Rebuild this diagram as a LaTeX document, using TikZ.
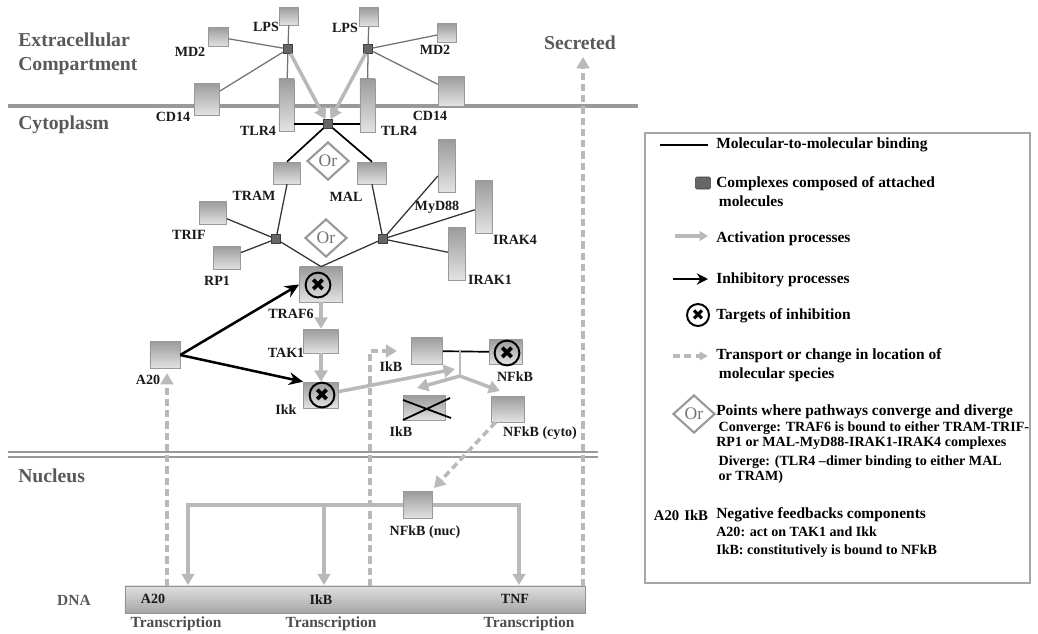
\documentclass[tikz,border=0pt]{standalone}
\usepackage{fontspec}
\setmainfont{Liberation Serif}
\newfontfamily\symfont{DejaVu Sans}
\usetikzlibrary{arrows.meta,shapes.geometric}

\begin{document}
\begin{tikzpicture}[x=0.025cm, y=-0.025cm, font=\bfseries\fontsize{10}{11}\selectfont,
    prot/.style={draw=gray!80, top color=gray!78, bottom color=gray!22, inner sep=0pt, minimum width=0.68cm, minimum height=0.6cm},
    rod/.style={prot, minimum width=0.42cm, minimum height=1.32cm},
    cplx/.style={draw=black!75, fill=black!60, inner sep=0pt, minimum size=0.22cm},
    lbl/.style={inner sep=0pt, text=black!90},
    region/.style={inner sep=0pt, text=black!65, align=left, font=\bfseries\fontsize{14}{17}\selectfont},
    orbox/.style={diamond, draw=gray!80, line width=1.5pt, fill=white, text=black!55, inner sep=0pt, minimum width=1.05cm, minimum height=0.95cm, font=\fontsize{12.5}{12.5}\selectfont},
    target/.style={circle, draw=black, line width=1.4pt, inner sep=0pt, minimum size=0.62cm, font=\symfont\fontsize{13}{13}\selectfont},
    bind/.style={black!55, line width=0.9pt},
    bindd/.style={black!80, line width=0.9pt},
    bindk/.style={black, line width=1.2pt},
    act/.style={gray!55, line width=2.5pt, -{Triangle[length=8pt,width=9pt]}},
    inh/.style={black, line width=1.8pt, -{Stealth[length=10pt,width=9pt]}},
    trans/.style={act, dash pattern=on 5pt off 3pt},
    note/.style={inner sep=0pt, anchor=west, align=left, font=\bfseries\fontsize{11}{13.5}\selectfont},
    subnote/.style={inner sep=0pt, anchor=west, align=left, font=\bfseries\fontsize{10}{11}\selectfont}]
    \useasboundingbox (0,0) rectangle (1038,633);

    % membranes
    \draw[gray!80, line width=2.8pt] (8,106) -- (638,106);
    \draw[gray!80, line width=1.2pt, double=white, double distance=2.2pt] (8,454.5) -- (598,454.5);

    % compartments
    \node[region, anchor=west] (extra) at (18,54) {Extracellular\\Compartment};
    \node[region, anchor=west] (cyto) at (18,125) {Cytoplasm};
    \node[region, anchor=west] (nucl) at (18,476) {Nucleus};
    \node[region] (secr) at (580,43) {Secreted};

    % receptor side
    \node[prot, minimum width=0.48cm, minimum height=0.45cm] (lpsL) at (289,16) {};
    \node[prot, minimum width=0.5cm, minimum height=0.48cm] (md2L) at (218,37) {};
    \node[prot, minimum width=0.63cm, minimum height=0.8cm] (cd14L) at (207,99) {};
    \node[rod, minimum width=0.38cm, minimum height=1.3cm] (tlrL) at (286.5,105) {};
    \node[prot, minimum width=0.48cm, minimum height=0.48cm] (lpsR) at (369,17) {};
    \node[prot, minimum width=0.48cm, minimum height=0.48cm] (md2R) at (447,33) {};
    \node[prot, minimum width=0.65cm, minimum height=0.75cm] (cd14R) at (451,91) {};
    \node[rod, minimum width=0.38cm, minimum height=1.33cm] (tlrR) at (367.5,105.5) {};
    \node[cplx] (cxL) at (288,49) {};
    \node[cplx] (cxR) at (368,49) {};
    \node[cplx] (cxC) at (328,124) {};

    \node[lbl] (lpsLl) at (266,27) {LPS};
    \node[lbl] (md2Ll) at (190,52) {MD2};
    \node[lbl] (cd14Ll) at (173,117) {CD14};
    \node[lbl] (tlrLl) at (258,131) {TLR4};
    \node[lbl] (lpsRl) at (345,28) {LPS};
    \node[lbl] (md2Rl) at (435,50) {MD2};
    \node[lbl] (cd14Rl) at (430,116) {CD14};
    \node[lbl] (tlrRl) at (399,131) {TLR4};

    \draw[bind] (cxL) -- (lpsL);
    \draw[bind] (cxL) -- (md2L);
    \draw[bind] (cxL) -- (cd14L);
    \draw[bind] (cxL) -- (tlrL);
    \draw[bind] (cxR) -- (lpsR);
    \draw[bind] (cxR) -- (md2R);
    \draw[bind] (cxR) -- (cd14R);
    \draw[bind] (cxR) -- (tlrR);
    \draw[act] (cxL) -- (cxC);
    \draw[act] (cxR) -- (cxC);
    \draw[bindk] (cxC -| tlrL.east) -- (cxC) -- (cxC -| tlrR.west);

    % adaptors
    \node[prot, minimum height=0.55cm] (tram) at (287,173) {};
    \node[prot, minimum width=0.72cm, minimum height=0.55cm] (mal) at (372,173) {};
    \node[prot, minimum height=0.58cm] (trif) at (213,213) {};
    \node[prot, minimum height=0.58cm] (rp1) at (227,258) {};
    \node[rod] (myd) at (446.5,166) {};
    \node[rod] (irak4) at (483.5,207) {};
    \node[rod] (irak1) at (456.5,254) {};
    \node[cplx] (cxT) at (276,239) {};
    \node[cplx] (cxM) at (383,239) {};

    \node[lbl] (traml) at (254,196) {TRAM};
    \node[lbl] (mall) at (346,197) {MAL};
    \node[lbl] (trifl) at (189,235) {TRIF};
    \node[lbl] (rp1l) at (217,281) {RP1};
    \node[lbl] (mydl) at (437,207) {MyD88};
    \node[lbl] (irak4l) at (515,240) {IRAK4};
    \node[lbl] (irak1l) at (490,280) {IRAK1};

    % signalling chain
    \node[prot, minimum width=1.08cm, minimum height=0.88cm] (traf6) at (321,284.5) {};
    \node[prot, minimum width=0.88cm, minimum height=0.6cm] (tak1) at (321,341) {};
    \node[prot, minimum width=0.88cm, minimum height=0.65cm] (ikk) at (321,395) {};
    \node[prot, minimum width=0.75cm, minimum height=0.68cm] (a20) at (165,355) {};
    \node[target] (xTraf) at (318,285) {✖};
    \node[target] (xIkk) at (322,395) {✖};

    \node[lbl] (traf6l) at (291,314) {TRAF6};
    \node[lbl] (tak1l) at (286,353) {TAK1};
    \node[lbl] (ikkl) at (286,410) {Ikk};
    \node[lbl] (a20l) at (148,380) {A20};

    \draw[bindk] (cxC) -- (tram.north);
    \draw[bindk] (cxC) -- (mal.north);
    \draw[bindd] (cxT) -- (tram.south);
    \draw[bindd] (cxT) -- (trif);
    \draw[bindd] (cxT) -- (rp1);
    \draw[bindd] (cxT) -- (traf6.north);
    \draw[bindd] (cxM) -- (mal.south);
    \draw[bindd] (cxM) -- (myd);
    \draw[bindd] (cxM) -- (irak4);
    \draw[bindd] (cxM) -- (irak1);
    \draw[bindd] (cxM) -- (traf6.north);

    \node[orbox] (or1) at (328,161) {Or};
    \node[orbox] (or2) at (326,238) {Or};

    \draw[act] (traf6) -- (tak1);
    \draw[act] (tak1) -- (ikk);
    \draw[inh] (a20.east) -- (traf6.west);
    \draw[inh] (a20.east) -- (ikk.north west);

    % IkB / NFkB
    \node[prot, minimum width=0.78cm, minimum height=0.68cm] (ikb1) at (427,351) {};
    \node[prot, minimum width=0.83cm, minimum height=0.63cm] (nfkb1) at (506,352) {};
    \node[target] (xNfkb) at (507,353) {✖};
    \node[prot, minimum width=1.05cm, minimum height=0.63cm] (ikbx) at (424,408) {};
    \node[prot, minimum width=0.83cm, minimum height=0.65cm] (nfkbc) at (508,409) {};
    \draw[black, line width=1.3pt] (403,400) -- (451,418) (403,420) -- (450,398);

    \node[lbl] (ikb1l) at (391,367) {IkB};
    \node[lbl] (nfkb1l) at (515,377) {NFkB};
    \node[lbl] (ikbxl) at (401,432) {IkB};
    \node[lbl] (nfkbcl) at (540,433) {NFkB (cyto)};

    \coordinate (stemTop) at (460,351);
    \coordinate (stemJn) at (460,376);
    \coordinate (tipIkb) at (417,388);
    \coordinate (tipNfkb) at (500,391);
    \coordinate (tipIkk) at (455,369);
    \draw[bindk] (ikb1) -- (nfkb1);
    \draw[gray!55, line width=1.8pt] (stemTop) -- (stemJn);
    \draw[act] (stemJn) -- (tipIkb);
    \draw[act] (stemJn) -- (tipNfkb);
    \draw[act] (ikk) -- (tipIkk);

    % nucleus
    \node[prot, minimum width=0.73cm, minimum height=0.68cm] (nfkbn) at (418,505) {};
    \node[lbl] (nfkbnl) at (425,532) {NFkB (nuc)};
    \node[draw=gray!85, top color=gray!25, bottom color=gray!70, inner sep=0pt, minimum width=11.5cm, minimum height=0.68cm] (dna) at (355,599.5) {};
    \node[lbl] (dnal) at (74,600) [text=black!65, font=\bfseries\fontsize{11}{12}\selectfont] {DNA};
    \node[lbl] (gA20l) at (153,599) {A20};
    \node[lbl] (gIkBl) at (321,600) {IkB};
    \node[lbl] (gTNFl) at (515,599) {TNF};
    \foreach \x/\n in {176/trA20, 331/trIkB, 529/trTNF}
        \node[lbl, text=black!70, font=\bfseries\fontsize{11}{12}\selectfont] (\n) at (\x,624) {Transcription};

    \coordinate (gA20) at (188,585);
    \coordinate (gIkB) at (324,585);
    \coordinate (gTNF) at (519,585);
    \draw[act] (nfkbn.west) -| (gA20);
    \draw[act] (nfkbn.east) -| (gTNF);
    \draw[act] (gIkB |- nfkbn.center) -- (gIkB);
    \draw[trans, shorten >=3pt] (nfkbc) -- (nfkbn);

    % transport out of the nucleus
    \coordinate (a20Gene) at (167,586);
    \coordinate (ikbGene) at (370,586);
    \coordinate (tnfGene) at (583,586);
    \coordinate (secTip) at (583,57);
    \draw[trans, shorten >=3pt] (a20Gene) -- (a20Gene |- a20.south);
    \draw[trans, shorten >=10pt] (ikbGene) |- (ikb1.west);
    \draw[trans] (tnfGene) -- (secTip);

    % legend
    \draw[gray!70, line width=1pt] (645,133) rectangle (1030,583);
    \draw[black, line width=0.9pt] (660,145) -- (708,145);
    \node[note] (lgBind) at (716,145) {Molecular-to-molecular binding};
    \node[draw=black!75, fill=black!60, inner sep=0pt, minimum width=0.38cm, minimum height=0.3cm, rounded corners=1pt] (lgCplx) at (703,183) {};
    \node[note, anchor=north west] (lgCplxT) at (716,176) {Complexes composed of attached\\\,molecules};
    \coordinate (lgActA) at (675,236);
    \coordinate (lgActB) at (708,236);
    \draw[act, line width=2.5pt, -{Triangle[length=6pt,width=7pt]}] (lgActA) -- (lgActB);
    \node[note] (lgAct) at (716,239) {Activation processes};
    \coordinate (lgInhA) at (673,279);
    \coordinate (lgInhB) at (708,279);
    \draw[inh, -{Stealth[length=8pt,width=8pt]}] (lgInhA) -- (lgInhB);
    \node[note] (lgInh) at (716,280) {Inhibitory processes};
    \node[target, minimum size=0.55cm, font=\symfont\fontsize{11}{11}\selectfont] (lgTarget) at (698,315) {✖};
    \node[note] (lgTargetT) at (716,316) {Targets of inhibition};
    \coordinate (lgTrA) at (673,356);
    \coordinate (lgTrB) at (708,356);
    \draw[trans, line width=2.2pt, -{Triangle[length=6pt,width=6pt]}] (lgTrA) -- (lgTrB);
    \node[note, anchor=north west] (lgTr) at (716,348) {Transport or change in location of\\\,molecular species};
    \node[orbox] (lgOr) at (694,414) {Or};
    \node[note] (lgOrT) at (716,412) {Points where pathways converge and diverge};
    \node[subnote, anchor=north west] (lgConv) at (716,421) {\,Converge: TRAF6 is bound to either TRAM-TRIF-\\RP1 or MAL-MyD88-IRAK1-IRAK4 complexes};
    \node[subnote, anchor=north west] (lgDiv) at (716,455) {\,Diverge: (TLR4 --dimer binding to either MAL\\\,or TRAM)};
    \node[inner sep=0pt, font=\bfseries\fontsize{10.5}{12}\selectfont] (lgNeg) at (681,515) {A20\,\,IkB};
    \node[note] (lgNegT) at (716,515) {Negative feedbacks components};
    \node[subnote, anchor=north west, font=\bfseries\fontsize{10}{12.8}\selectfont] (lgNegS) at (716,526) {A20: act on TAK1 and Ikk\\IkB: constitutively is bound to NFkB};
\end{tikzpicture}
\end{document}
